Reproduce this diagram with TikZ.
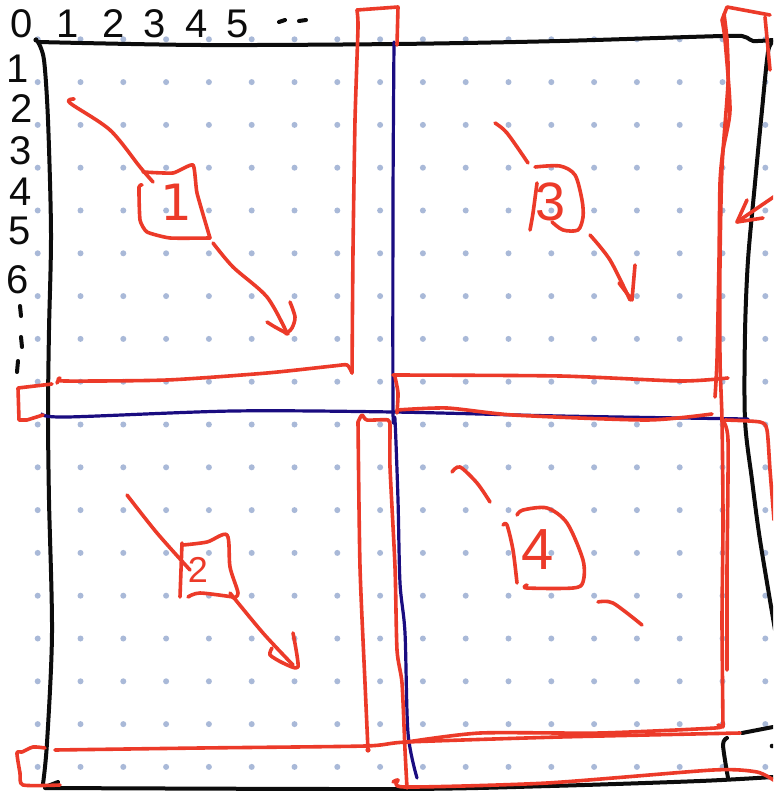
\documentclass[tikz,border=0pt]{standalone}
\usepackage{fontspec}
\setmainfont{Liberation Sans}
\newfontfamily\djv{DejaVu Sans}
\definecolor{redpen}{RGB}{236,58,41}
\definecolor{navypen}{RGB}{26,12,128}
\definecolor{inkpen}{RGB}{12,12,12}
\definecolor{dotgrid}{RGB}{169,185,216}
\tikzset{
  blk/.style={inkpen, line width=4pt, line cap=round, line join=round},
  rd/.style={redpen, line width=3.6pt, line cap=round, line join=round},
  nv/.style={navypen, line width=3.2pt, line cap=round, line join=round},
  axnum/.style={inkpen, inner sep=0pt, font=\fontsize{40}{40}\selectfont},
  qnum/.style={redpen, inner sep=0pt},
}
\begin{document}
\begin{tikzpicture}[x=1pt,y=-1pt]
\useasboundingbox (0,0) rectangle (773,791);
\clip (0,0) rectangle (773,791);
\fill[white] (0,0) rectangle (773,791);
% dot grid
\foreach \i in {0,...,17}{
  \foreach \j in {0,...,17}{
    \fill[dotgrid] ({37.7+42.8*\i},{39.3+42.8*\j}) circle (3);
  }
}
% ---------- black outer frame ----------
\fill[inkpen] (36,40) circle (2.6);
\draw[blk] plot[smooth,tension=0.5] coordinates {(38,42) (200,45) (397,44) (560,41) (723,36) (745,37) (753,41) (773,40)};
\draw[blk] plot[smooth,tension=0.5] coordinates {(773,42) (768,52) (762,110) (755,183) (748,260) (745,333) (745,420) (752,480) (760,540) (775,630)};
\draw[blk] plot[smooth,tension=0.5] coordinates {(38,42) (44,60) (48,120) (51,233) (49,330) (48,413) (49,500) (52,633) (47,743) (43,784)};
\draw[blk] (45,787) -- (58,782);
\draw[blk] plot[smooth,tension=0.5] coordinates {(45,788) (400,789) (550,786) (700,781) (773,777)};
\draw[blk] (742,733) -- (773,727);
\draw[blk] plot[smooth,tension=0.5] coordinates {(727,738) (723,745) (728,778)};
\fill[inkpen] (772,746) circle (2.3);
% ---------- axis numbers ----------
\node[axnum] (t0) at (22,24) {0};
\node[axnum] (t1) at (68,24) {1};
\node[axnum] (t2) at (114,24) {2};
\node[axnum] (t3) at (155,24) {3};
\node[axnum] (t4) at (197,24) {4};
\node[axnum] (t5) at (238,24) {5};
\draw[blk] (279,22) -- (285,20);
\draw[blk] (299,21) -- (306,20);
\node[axnum] (l1) at (18,69) {1};
\node[axnum] (l2) at (22,109) {2};
\node[axnum] (l3) at (21,151) {3};
\node[axnum] (l4) at (21,192) {4};
\node[axnum] (l5) at (20,231) {5};
\node[axnum] (l6) at (18,280) {6};
\draw[blk] (20,306) -- (21,316);
\draw[blk] (21,337) -- (22,347);
\draw[blk] (17,372) -- (18,361);
% ---------- navy dividers ----------
\draw[nv] plot[smooth,tension=0.5] coordinates {(394,42) (393,200) (393,410) (395,420) (398,500) (400,583) (405,633) (408,733) (417,778)};
\draw[nv] plot[smooth,tension=0.5] coordinates {(42,414) (67,417) (233,411) (393,412) (560,416) (748,419)};
% ---------- red strips ----------
% top-left strip (L-shape)
\draw[rd] plot[smooth,tension=0.4] coordinates {(57,383) (60,378) (64,381) (167,380) (267,373) (333,366) (347,365) (352,373)};
\draw[rd] plot[smooth,tension=0.3] coordinates {(352,373) (353,250) (355,120) (358,27) (357,10)};
\draw[rd] (357,10) -- (398,7) -- (397,45);
\draw[rd] (52,384) -- (18,388) -- (19,420) -- (27,420) -- (43,415);
% top-right strip
\draw[rd] plot[smooth,tension=0.4] coordinates {(393,375) (560,376) (680,381) (728,378)};
\draw[rd] plot[smooth,tension=0.4] coordinates {(395,377) (398,393) (397,413)};
\draw[rd] plot[smooth,tension=0.4] coordinates {(397,410) (447,408) (513,415) (647,420) (712,414)};
% right strip
\draw[rd] (722,20) -- (727,7) -- (770,15);
\draw[rd] (765,17) -- (770,70);
\draw[rd] plot[smooth,tension=0.4] coordinates {(722,20) (725,40) (730,110) (723,150) (720,183) (719,260) (717,360) (715,397)};
\draw[rd] plot[smooth,tension=0.4] coordinates {(724,14) (727,40) (728,83) (722,167) (720,260) (720,360) (722,420) (723,520) (722,620) (723,727)};
\draw[rd] plot[smooth,tension=0.4] coordinates {(722,420) (728,440) (727,570) (727,670)};
\draw[rd] plot[smooth,tension=0.4] coordinates {(725,420) (760,422) (767,430) (770,470) (774,520)};
% right-side arrow
\draw[rd] (775,196) -- (737,222);
\draw[rd] (747,200) -- (737,222) -- (763,218);
% bottom-left strip (vertical)
\draw[rd] plot[smooth,tension=0.4] coordinates {(358,422) (362,415) (367,420) (388,420) (390,428) (390,467) (395,567) (397,650) (402,683) (405,750) (407,788)};
\draw[rd] plot[smooth,tension=0.4] coordinates {(358,422) (360,567) (365,683) (368,750)};
\fill[redpen] (368,750) circle (2.6);
% bottom long strip
\draw[rd] plot[smooth,tension=0.4] coordinates {(55,750) (200,748) (365,746) (407,742) (560,737) (740,733)};
\draw[rd] plot[smooth,tension=0.4] coordinates {(45,748) (33,747) (22,752) (17,753) (20,773) (23,785) (60,785)};
\draw[rd] plot[smooth,tension=0.4] coordinates {(407,742) (480,733) (600,733) (715,728) (718,725)};
\draw[rd] plot[smooth,tension=0.4] coordinates {(393,782) (398,780) (405,787) (547,783) (713,770) (757,772) (775,781)};
% ---------- quadrant 1 ----------
\draw[rd] plot[smooth,tension=0.5] coordinates {(74,99) (70,103) (110,130) (140,167) (153,182)};
\draw[rd] plot[smooth,tension=0.3] coordinates {(143,172) (173,173) (193,165) (197,193) (210,238)};
\draw[rd] plot[smooth,tension=0.3] coordinates {(210,238) (170,238) (147,232) (140,220) (139,187) (142,185)};
\node[qnum, font=\djv\fontsize{50}{50}\selectfont] (n1) at (176,202) {1};
\draw[rd] plot[smooth,tension=0.5] coordinates {(213,243) (233,267) (267,297) (287,333)};
\draw[rd] plot[smooth,tension=0.5] coordinates {(267,322) (275,327) (288,334)};
\draw[rd] plot[smooth,tension=0.5] coordinates {(290,302) (295,317) (292,328) (286,334)};
% ---------- quadrant 3 ----------
\draw[rd] plot[smooth,tension=0.5] coordinates {(495,123) (507,133) (528,163)};
\draw[rd] plot[smooth,tension=0.5] coordinates {(535,167) (560,166) (575,175) (582,200) (583,217) (578,230) (563,230) (552,222)};
\draw[rd] plot[smooth,tension=0.5] coordinates {(537,183) (533,213) (530,230)};
\node[qnum, font=\fontsize{54}{54}\selectfont] (n3) at (551,202) {3};
\draw[rd] plot[smooth,tension=0.5] coordinates {(590,235) (610,260) (630,300)};
\draw[rd] (635,265) -- (632,300) -- (619,283);
% ---------- quadrant 2 ----------
\draw[rd] plot[smooth,tension=0.5] coordinates {(127,495) (157,533) (190,570)};
\draw[rd] (182,543) -- (180,597);
\draw[rd] plot[smooth,tension=0.5] coordinates {(183,545) (207,542) (227,535) (230,567) (238,593) (233,598)};
\draw[rd] plot[smooth,tension=0.5] coordinates {(188,597) (200,593) (233,597)};
\node[qnum, font=\fontsize{36}{36}\selectfont] (n2) at (198,570) {2};
\draw[rd] plot[smooth,tension=0.5] coordinates {(230,593) (263,633) (293,665)};
\draw[rd] plot[smooth,tension=0.4] coordinates {(293,633) (298,667) (283,663) (270,655) (272,648)};
% ---------- quadrant 4 ----------
\draw[rd] plot[smooth,tension=0.5] coordinates {(452,472) (460,467) (477,483) (490,502)};
\draw[rd] plot[smooth,tension=0.5] coordinates {(503,525) (507,525) (513,550) (517,583)};
\draw[rd] plot[smooth,tension=0.5] coordinates {(517,515) (523,510) (547,508) (567,523) (583,560) (583,582) (573,588) (527,588) (527,585)};
\node[qnum, font=\fontsize{58}{58}\selectfont] (n4) at (538,550) {4};
\draw[rd] plot[smooth,tension=0.5] coordinates {(598,602) (613,603) (642,625)};
\end{tikzpicture}
\end{document}
